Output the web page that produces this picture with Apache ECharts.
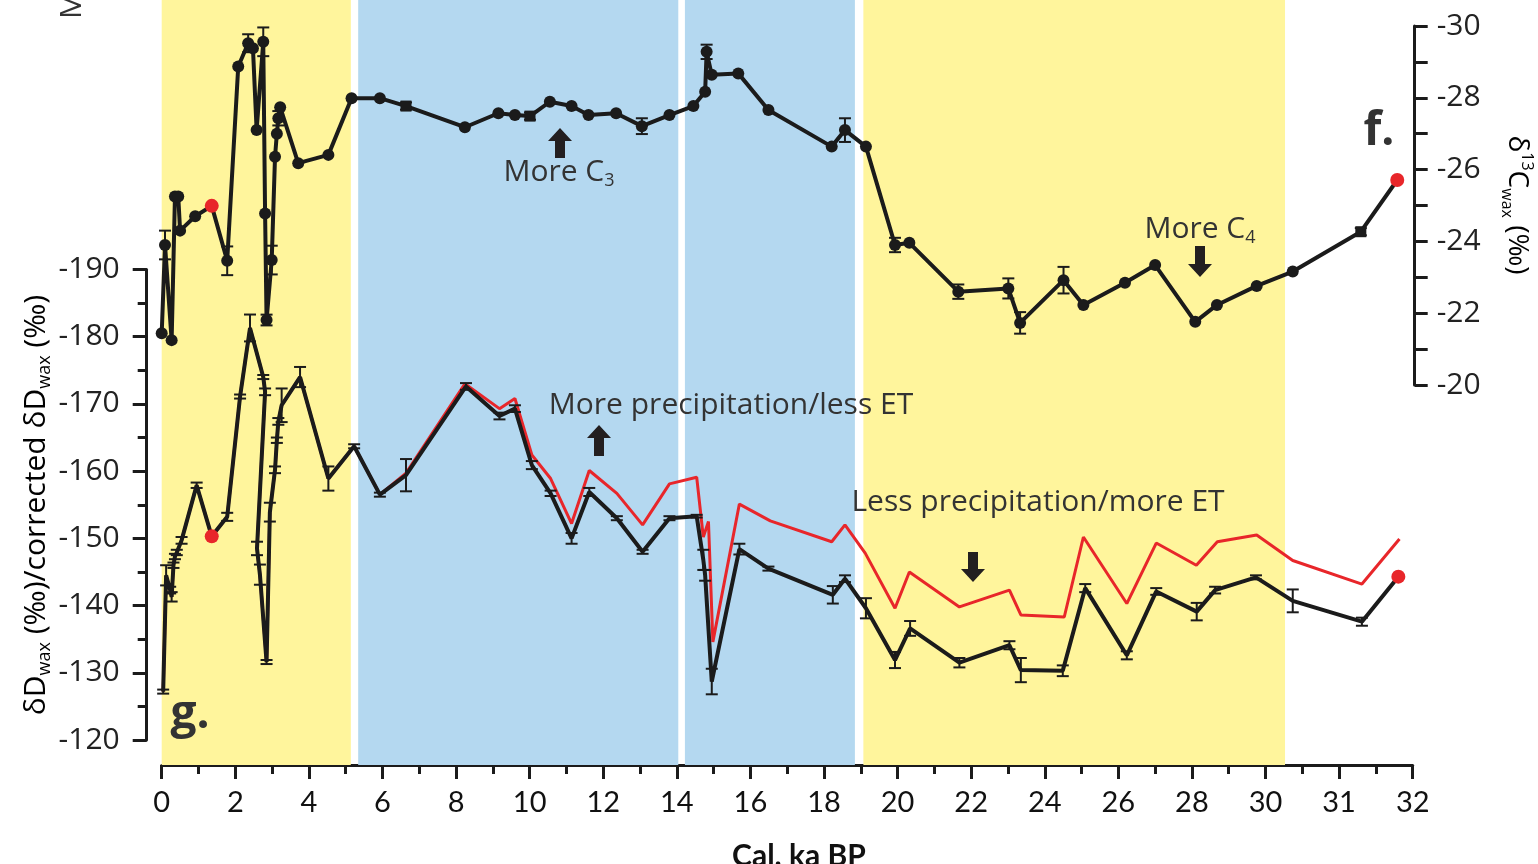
<!DOCTYPE html>
<html>
<head>
<meta charset="utf-8">
<script src="https://cdn.jsdelivr.net/npm/echarts@6/dist/echarts.min.js"></script>
<style>
html,body{margin:0;padding:0;background:#fff;}
#c{width:1538px;height:864px;}
</style>
</head>
<body>
<div id="c"></div>
<script>
// ---------- DATA ----------
// x tick labels (axis runs 0..34 in plot units; last two ticks labelled 31, 32 as in the figure)
const xTickValues = [0,2,4,6,8,10,12,14,16,18,20,22,24,26,28,30,32,34];
const xTickLabels = ['0','2','4','6','8','10','12','14','16','18','20','22','24','26','28','30','31','32'];

// shaded periods
const periodStart = [0, 5.34, 14.22, 19.07];
const periodEnd   = [5.14, 14.04, 18.84, 30.53];
const periodKind  = ['dry', 'wet', 'wet', 'dry'];

// δ13C wax (panel f)
const ageC = [0.00,0.09,0.27,0.36,0.45,0.50,0.91,1.36,1.78,2.08,2.35,2.48,2.58,2.76,2.81,2.85,2.99,3.08,3.13,3.17,
              3.22,3.71,4.53,5.16,5.93,6.64,8.24,9.15,9.60,10.01,10.55,11.14,11.60,12.35,13.05,13.80,14.45,14.77,14.81,14.95,
              15.67,16.49,18.21,18.57,19.14,19.93,20.32,21.65,23.01,23.33,24.51,25.05,26.18,27.00,28.09,28.68,29.76,30.74,32.59,33.58];
const valC = [-21.44,-23.90,-21.25,-25.25,-25.25,-24.30,-24.70,-24.99,-23.46,-28.87,-29.52,-29.38,-27.10,-29.56,-24.78,-21.81,-23.48,-26.36,-27.00,-27.43,
              -27.74,-26.18,-26.41,-27.99,-27.99,-27.77,-27.18,-27.57,-27.52,-27.49,-27.89,-27.77,-27.52,-27.57,-27.21,-27.52,-27.77,-28.17,-29.28,-28.64,
              -28.68,-27.66,-26.64,-27.10,-26.64,-23.90,-23.96,-22.60,-22.69,-21.73,-22.92,-22.23,-22.85,-23.34,-21.76,-22.23,-22.76,-23.16,-24.27,-25.71];
const errC = [0,0.4,0,0,0,0,0,0,0.4,0,0.25,0,0,0.4,0,0.15,0.4,0,0,0.2,
              0,0,0,0,0,0.1,0,0,0,0.1,0,0,0,0,0.22,0,0,0,0.2,0,
              0,0,0,0.33,0,0.2,0,0.2,0.28,0.3,0.37,0,0,0,0,0,0,0,0.1,0];
const redC = [7, 59];
const squareC = [25, 29, 58];

// δD wax (panel g, black)
const ageD = [0.04,0.12,0.23,0.27,0.32,0.36,0.41,0.54,0.95,1.36,1.78,2.13,2.40,2.76,2.81,2.59,2.67,2.85,2.94,3.08,
              3.13,3.17,3.26,3.76,4.53,5.23,5.93,6.64,8.27,9.18,9.60,10.06,10.57,11.14,11.62,12.37,13.07,13.80,14.54,14.72,
              14.77,14.95,15.70,16.49,18.24,18.57,19.14,19.93,20.34,21.68,23.04,23.35,24.49,25.10,26.23,27.03,28.13,28.63,29.74,30.74,
              32.62,33.61];
const valD = [-127.2,-144.5,-142.3,-141.3,-146.0,-147.3,-147.9,-149.7,-157.9,-150.3,-153.2,-171.1,-181.3,-174.0,-171.8,-148.5,-144.6,-131.6,-153.9,-160.2,
              -164.6,-167.4,-169.8,-174.0,-158.9,-163.7,-156.5,-159.4,-172.6,-168.2,-169.3,-160.9,-156.7,-150.0,-156.9,-153.0,-148.0,-153.0,-153.3,-146.8,
              -144.5,-128.7,-148.4,-145.5,-141.6,-144.0,-139.6,-131.9,-136.6,-131.5,-134.1,-130.4,-130.3,-142.6,-132.6,-142.1,-139.1,-142.3,-144.2,-140.7,
              -137.6,-144.3];
const errD = [0.3,1.5,0.5,0.7,0.4,0.4,0.4,0.5,0.4,0,0.6,0.3,2.0,0.3,0.5,1.0,1.5,0.3,1.4,0.5,
              0.4,0.5,2.5,1.5,1.8,0.3,0.3,2.4,0.5,0.5,0.5,0.6,0.4,0.8,0.6,0.3,0.3,0.3,0.2,1.5,
              0.8,1.9,0.8,0.3,1.3,0.5,1.5,1.2,1.1,0.7,0.6,1.8,0.8,0.6,0.6,0.5,1.3,0.5,0.3,1.7,
              0.6,0];
const redD = [9, 61];

// corrected δD wax (panel g, red)
const ageR = [0.04,0.12,0.23,0.27,0.32,0.36,0.41,0.54,0.95,1.36,1.78,2.13,2.40,2.76,2.81,2.59,2.67,2.85,2.94,3.08,
              3.13,3.17,3.26,3.76,4.53,5.23,5.93,6.64,8.24,9.18,9.60,10.06,10.57,11.14,11.62,12.37,13.07,13.80,14.54,14.72,
              14.86,14.98,15.70,16.54,18.21,18.57,19.12,19.93,20.32,21.68,23.04,23.35,24.53,25.05,26.23,27.03,28.12,28.69,29.76,30.74,
              32.62,33.64];
const valR = [-127.2,-144.5,-142.3,-141.3,-146.0,-147.3,-147.9,-149.7,-157.9,-150.3,-153.2,-171.1,-181.3,-174.0,-171.8,-148.5,-144.6,-131.6,-153.9,-160.2,
              -164.6,-167.4,-169.8,-174.0,-158.9,-163.7,-156.5,-159.7,-173.0,-169.3,-170.8,-162.4,-158.9,-152.2,-160.1,-156.7,-152.0,-158.1,-159.1,-150.2,
              -152.5,-134.6,-155.1,-152.6,-149.5,-152.0,-147.8,-139.6,-145.0,-139.8,-142.3,-138.6,-138.3,-150.2,-140.3,-149.3,-146.0,-149.5,-150.5,-146.7,
              -143.2,-149.9];

// ---------- CHART ----------
const chart = echarts.init(document.getElementById('c'), null, {renderer: 'canvas'});
const L = 161.7, R = 1538 - 1412.7;
const INK = '#1b1b1b', TXT = '#333333', RED = '#e8262a';
const bandColor = {dry: '#fff59c', wet: '#b4d8f0'};

function pairs(a, b) { return a.map((x, i) => [x, b[i]]); }

const cData = ageC.map((x, i) => {
  const it = {value: [x, valC[i]]};
  if (redC.includes(i)) { it.itemStyle = {color: RED}; it.symbolSize = 14; }
  if (squareC.includes(i)) { it.symbol = 'rect'; it.symbolSize = 11; }
  return it;
});
const dData = ageD.map((x, i) => {
  const it = {value: [x, valD[i]]};
  if (redD.includes(i)) { it.itemStyle = {color: RED}; it.symbolSize = 14; }
  return it;
});
const errCData = ageC.map((x, i) => [x, valC[i] - errC[i], valC[i] + errC[i]]).filter((d, i) => errC[i] > 0);
const errDData = ageD.map((x, i) => [x, valD[i] - errD[i], valD[i] + errD[i]]).filter((d, i) => errD[i] > 0);

function errRender(params, api) {
  const x = api.value(0);
  const p1 = api.coord([x, api.value(1)]);
  const p2 = api.coord([x, api.value(2)]);
  const w = 6;
  const st = {stroke: INK, lineWidth: 2};
  return {type: 'group', children: [
    {type: 'line', shape: {x1: p1[0], y1: p1[1], x2: p2[0], y2: p2[1]}, style: st},
    {type: 'line', shape: {x1: p1[0] - w, y1: p1[1], x2: p1[0] + w, y2: p1[1]}, style: st},
    {type: 'line', shape: {x1: p2[0] - w, y1: p2[1], x2: p2[0] + w, y2: p2[1]}, style: st}
  ]};
}

function arrow(cx, top, h, up) {
  const hw = 12, sw = 5, hh = 13;
  let pts;
  if (up) {
    pts = [[cx, top], [cx + hw, top + hh], [cx + sw, top + hh], [cx + sw, top + h], [cx - sw, top + h], [cx - sw, top + hh], [cx - hw, top + hh]];
  } else {
    const b = top + h;
    pts = [[cx, b], [cx + hw, b - hh], [cx + sw, b - hh], [cx + sw, top], [cx - sw, top], [cx - sw, b - hh], [cx - hw, b - hh]];
  }
  return {type: 'polygon', shape: {points: pts}, style: {fill: '#231f20'}, z: 50};
}

const FONT = '"Open Sans", "DejaVu Sans", sans-serif';
function note(x, y, rich, text) {
  return {type: 'text', x: x, y: y, z: 50,
    style: {text: text, rich: rich, align: 'center', verticalAlign: 'middle', font: '30px ' + FONT, fill: TXT}};
}
const richC = {
  m: {fontSize: 30, fontFamily: FONT, color: TXT, lineHeight: 36, verticalAlign: 'middle'},
  s: {fontSize: 18, fontFamily: FONT, color: TXT, lineHeight: 14, verticalAlign: 'bottom'}
};

const option = {
  animation: false,
  backgroundColor: '#ffffff',
  grid: [
    {left: L, right: R, top: 0, bottom: 864 - 765},
    {left: L, right: R, top: 269.5, height: 470.5},
    {left: L, right: R, top: 26, height: 359}
  ],
  xAxis: [
    {type: 'value', gridIndex: 0, min: 0, max: 34, interval: 2,
      axisLine: {onZero: false, lineStyle: {color: INK, width: 3}},
      axisTick: {length: 14, lineStyle: {color: INK, width: 3}},
      minorTick: {show: true, splitNumber: 2, length: 9, lineStyle: {color: INK, width: 3}},
      splitLine: {show: false},
      axisLabel: {margin: 23, fontFamily: 'Lato, sans-serif', fontSize: 29, color: '#111',
        formatter: v => { const k = xTickValues.indexOf(v); return k >= 0 ? xTickLabels[k] : ''; }}},
    {type: 'value', gridIndex: 1, min: 0, max: 34, show: false},
    {type: 'value', gridIndex: 2, min: 0, max: 34, show: false}
  ],
  yAxis: [
    {type: 'value', gridIndex: 0, min: 0, max: 1, show: false},
    {type: 'value', gridIndex: 1, min: -190, max: -120, interval: 10, inverse: true, position: 'left', offset: 15,
      axisLine: {show: true, onZero: false, lineStyle: {color: INK, width: 3}},
      axisTick: {show: true, length: 14, lineStyle: {color: INK, width: 3}},
      minorTick: {show: true, splitNumber: 2, length: 9, lineStyle: {color: INK, width: 3}},
      splitLine: {show: false},
      axisLabel: {margin: 27, fontFamily: FONT, fontSize: 30, color: '#222'}},
    {type: 'value', gridIndex: 2, min: -30, max: -20, interval: 2, inverse: true, position: 'right', offset: 2,
      axisLine: {show: true, onZero: false, lineStyle: {color: INK, width: 3}},
      axisTick: {show: true, length: 13, lineStyle: {color: INK, width: 3}},
      minorTick: {show: true, splitNumber: 2, length: 13, lineStyle: {color: INK, width: 3}},
      splitLine: {show: false},
      axisLabel: {margin: 22, fontFamily: FONT, fontSize: 30, color: '#222'}}
  ],
  series: [
    {type: 'line', xAxisIndex: 0, yAxisIndex: 0, data: [], silent: true,
      markArea: {silent: true, data: periodStart.map((s, i) => [
        {xAxis: s, itemStyle: {color: bandColor[periodKind[i]], opacity: 1}}, {xAxis: periodEnd[i]}])}},
    {name: 'corrected δDwax', type: 'line', xAxisIndex: 1, yAxisIndex: 1, data: pairs(ageR, valR),
      symbol: 'none', lineStyle: {color: RED, width: 3}, z: 3, clip: false},
    {type: 'custom', xAxisIndex: 1, yAxisIndex: 1, data: errDData, renderItem: errRender, z: 4, clip: false},
    {name: 'δDwax', type: 'line', xAxisIndex: 1, yAxisIndex: 1, data: dData,
      symbol: 'circle', symbolSize: 0, showAllSymbol: true, itemStyle: {color: INK},
      lineStyle: {color: INK, width: 4}, z: 5, clip: false},
    {type: 'custom', xAxisIndex: 2, yAxisIndex: 2, data: errCData, renderItem: errRender, z: 6, clip: false},
    {name: 'δ13Cwax', type: 'line', xAxisIndex: 2, yAxisIndex: 2, data: cData,
      symbol: 'circle', symbolSize: 12, showAllSymbol: true, itemStyle: {color: INK},
      lineStyle: {color: INK, width: 4}, z: 7, clip: false}
  ],
  graphic: [
    // left axis title
    {type: 'text', x: 36, y: 505, rotation: Math.PI / 2, z: 50,
      style: {text: '{b|δD}{bs|wax}{b| (‰)/}{r|corrected δD}{rs|wax}{r| (‰)}', align: 'center', verticalAlign: 'middle',
        rich: {
          b: {fontSize: 30, fontFamily: FONT, color: '#333', lineHeight: 36, verticalAlign: 'middle'},
          bs: {fontSize: 18, fontFamily: FONT, color: '#333', lineHeight: 14, verticalAlign: 'bottom'},
          r: {fontSize: 30, fontFamily: FONT, color: RED, lineHeight: 36, verticalAlign: 'middle'},
          rs: {fontSize: 18, fontFamily: FONT, color: RED, lineHeight: 14, verticalAlign: 'bottom'}
        }}},
    // right axis title
    {type: 'text', x: 1517, y: 205, rotation: -Math.PI / 2, z: 50,
      style: {text: '{m|δ}{sup|13}{m|C}{sub|wax}{m| (‰)}', align: 'center', verticalAlign: 'middle',
        rich: {
          m: {fontSize: 28, fontFamily: FONT, color: '#444', lineHeight: 36, verticalAlign: 'middle'},
          sup: {fontSize: 16, fontFamily: FONT, color: '#444', lineHeight: 12, verticalAlign: 'top'},
          sub: {fontSize: 16, fontFamily: FONT, color: '#444', lineHeight: 12, verticalAlign: 'bottom'}
        }}},
    // x axis title
    {type: 'text', x: 799, y: 856, z: 50,
      style: {text: 'Cal. ka BP', align: 'center', verticalAlign: 'middle', font: 'bold 30px Lato, sans-serif', fill: '#111'}},
    // clipped label from panel above
    {type: 'text', x: 72, y: 19, rotation: Math.PI / 2, z: 50,
      style: {text: 'Mg', align: 'left', verticalAlign: 'middle', font: '30px ' + FONT, fill: '#333'}},
    // panel letters
    {type: 'text', x: 1379, y: 132, z: 50,
      style: {text: 'f.', align: 'center', verticalAlign: 'middle', font: 'bold 46px ' + FONT, fill: '#333'}},
    {type: 'text', x: 190, y: 715, z: 50,
      style: {text: 'g.', align: 'center', verticalAlign: 'middle', font: 'bold 46px ' + FONT, fill: '#333'}},
    // annotations
    note(559, 172, richC, '{m|More C}{s|3}'),
    note(1200, 229, richC, '{m|More C}{s|4}'),
    note(731, 405, richC, '{m|More precipitation/less ET}'),
    note(1038, 502, richC, '{m|Less precipitation/more ET}'),
    arrow(560, 128, 30, true),
    arrow(1200, 246, 31, false),
    arrow(599, 425, 31, true),
    arrow(973, 552, 30, false)
  ]
};
chart.setOption(option);
</script>
</body>
</html>
